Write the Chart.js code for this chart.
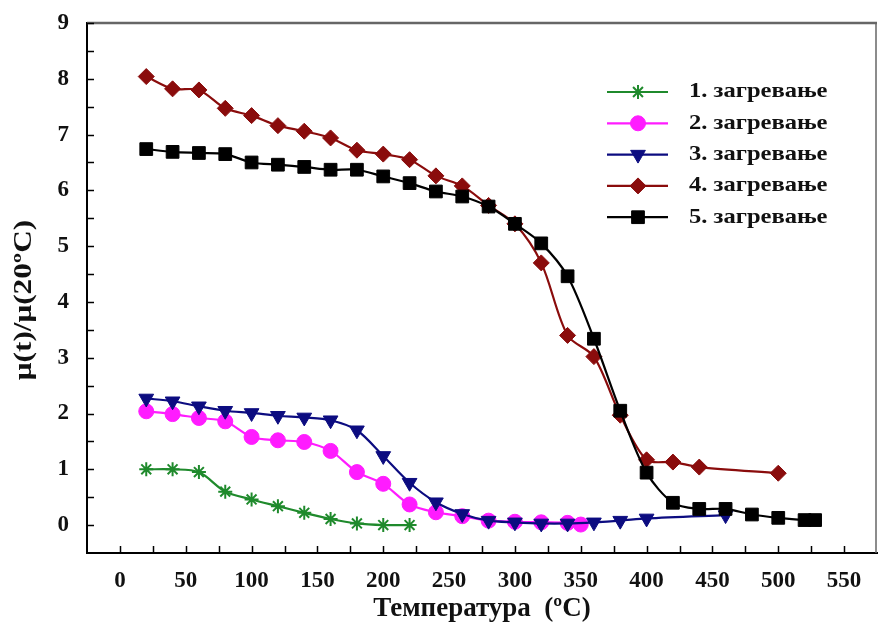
<!DOCTYPE html>
<html>
<head>
<meta charset="utf-8">
<title>Загревање</title>
<script src="https://cdn.jsdelivr.net/npm/chart.js@4.4.1/dist/chart.umd.min.js"></script>
<style>
  html, body { margin: 0; padding: 0; background: #fff; }
  #wrap { width: 878px; height: 637px; }
</style>
</head>
<body>
<div id="wrap"><canvas id="heatChart" width="878" height="637"></canvas></div>
<script>
// Temperatures (ºC) and ratios mu(t)/mu(20ºC) for each heating run
const temp1 = [20, 40, 60, 80, 100, 120, 140, 160, 180, 200, 220];
const heat1 = [1.0, 1.0, 0.95, 0.6, 0.46, 0.34, 0.22, 0.11, 0.03, 0.0, 0.0];

const temp2 = [20, 40, 60, 80, 100, 120, 140, 160, 180, 200, 220, 240, 260, 280, 300, 320, 340, 350];
const heat2 = [2.04, 1.99, 1.92, 1.86, 1.58, 1.52, 1.49, 1.33, 0.95, 0.74, 0.37, 0.23, 0.16, 0.08, 0.06, 0.05, 0.04, 0.01];

const temp3 = [20, 40, 60, 80, 100, 120, 140, 160, 180, 200, 220, 240, 260, 280, 300, 320, 340, 360, 380, 400, 460];
const heat3 = [2.27, 2.22, 2.13, 2.05, 2.01, 1.96, 1.93, 1.88, 1.7, 1.24, 0.76, 0.41, 0.2, 0.08, 0.05, 0.03, 0.03, 0.05, 0.08, 0.12, 0.18];

const temp4 = [20, 40, 60, 80, 100, 120, 140, 160, 180, 200, 220, 240, 260, 280, 300, 320, 340, 360, 380, 400, 420, 440, 500];
const heat4 = [8.04, 7.82, 7.8, 7.47, 7.34, 7.16, 7.06, 6.94, 6.72, 6.65, 6.55, 6.26, 6.08, 5.73, 5.4, 4.7, 3.4, 3.02, 1.97, 1.17, 1.13, 1.04, 0.93];

const temp5 = [20, 40, 60, 80, 100, 120, 140, 160, 180, 200, 220, 240, 260, 280, 300, 320, 340, 360, 380, 400, 420, 440, 460, 480, 500, 520, 528];
const heat5 = [6.74, 6.69, 6.67, 6.65, 6.5, 6.46, 6.42, 6.37, 6.37, 6.25, 6.13, 5.98, 5.89, 5.71, 5.4, 5.05, 4.46, 3.34, 2.05, 0.94, 0.4, 0.29, 0.29, 0.19, 0.13, 0.09, 0.09];

const seriesNames = ['1. загревање', '2. загревање', '3. загревање', '4. загревање', '5. загревање'];

const xTicks = [0, 50, 100, 150, 200, 250, 300, 350, 400, 450, 500, 550];
const yTicks = [0, 1, 2, 3, 4, 5, 6, 7, 8, 9];

const yTitle = 'μ(t)/μ(20ºC)';
const xTitle = 'Температура  (ºC)';

const serif = "'Liberation Serif', 'Times New Roman', serif";
Chart.defaults.font.family = serif;
Chart.defaults.color = '#111';

const toPoints = (xs, ys) => xs.map((t, i) => ({ x: t, y: ys[i] }));

// Line + marker style per heating run
function series(i, xs, ys, color, style) {
    return Object.assign({
        label: seriesNames[i],
        data: toPoints(xs, ys),
        borderColor: color,
        backgroundColor: color,
        pointBackgroundColor: color,
        pointBorderColor: color,
        borderWidth: 2.2,
        pointBorderWidth: 1,
        tension: 0.3,
        order: 5 - i
    }, style);
}

const datasets = [
    series(0, temp1, heat1, '#1f8a2c', { pointStyle: 'star', pointRadius: 7, pointBorderWidth: 2 }),
    series(1, temp2, heat2, '#ff1cff', { pointStyle: 'circle', pointRadius: 7.5 }),
    series(2, temp3, heat3, '#0c0c80', { pointStyle: 'triangle', pointRadius: 8.5, pointRotation: 180 }),
    series(3, temp4, heat4, '#8a0c0c', { pointStyle: 'rectRot', pointRadius: 8 }),
    series(4, temp5, heat5, '#000000', { pointStyle: 'rect', pointRadius: 9 })
];

// Gray top/right frame edges, inward tick marks and the rotated y title
const frameTicks = {
    id: 'frameTicks',
    beforeDatasetsDraw(chart) {
        const { ctx, chartArea: a, scales: { x, y } } = chart;
        ctx.save();
        ctx.strokeStyle = '#666';
        ctx.lineWidth = 2.5;
        ctx.beginPath();
        ctx.moveTo(a.left, a.top);
        ctx.lineTo(a.right, a.top);
        ctx.stroke();
        ctx.lineWidth = 1.5;
        ctx.beginPath();
        ctx.moveTo(a.right - 1, a.top);
        ctx.lineTo(a.right - 1, a.bottom);
        ctx.stroke();

        ctx.strokeStyle = '#000';
        ctx.lineWidth = 1.5;
        ctx.beginPath();
        for (let v = 0; v <= 550; v += 25) {
            const px = Math.round(x.getPixelForValue(v)) + 0.5;
            ctx.moveTo(px, a.bottom);
            ctx.lineTo(px, a.bottom - 7);
        }
        for (let v = 0; v <= 9; v += 0.5) {
            const py = Math.round(y.getPixelForValue(v)) + 0.5;
            ctx.moveTo(a.left, py);
            ctx.lineTo(a.left + 7, py);
        }
        ctx.stroke();

        // y title, a little stretched along its baseline
        ctx.translate(25, (a.top + a.bottom) / 2 + 12);
        ctx.rotate(-Math.PI / 2);
        ctx.scale(1.25, 1);
        ctx.font = 'bold 25px ' + serif;
        ctx.fillStyle = '#111';
        ctx.textAlign = 'center';
        ctx.textBaseline = 'middle';
        ctx.fillText(yTitle, 0, 0);
        ctx.restore();
    }
};

// Legend box inside the plot, upper right
const insideLegend = {
    id: 'insideLegend',
    afterDraw(chart) {
        const ctx = chart.ctx;
        const a = chart.chartArea;
        const x0 = a.left + 520;
        chart.data.datasets.forEach((ds, i) => {
            const yy = a.top + 69 + i * 31.3;
            ctx.save();
            ctx.strokeStyle = ds.borderColor;
            ctx.fillStyle = ds.borderColor;
            ctx.lineWidth = 2.2;
            ctx.beginPath();
            ctx.moveTo(x0, yy);
            ctx.lineTo(x0 + 61, yy);
            ctx.stroke();
            ctx.lineWidth = ds.pointBorderWidth;
            Chart.helpers.drawPoint(ctx, {
                pointStyle: ds.pointStyle,
                radius: ds.pointRadius,
                rotation: ds.pointRotation || 0,
                borderWidth: ds.pointBorderWidth
            }, x0 + 31, yy);
            ctx.translate(x0 + 82, yy);
            ctx.scale(1.17, 1);
            ctx.fillStyle = '#111';
            ctx.font = 'bold 21px ' + serif;
            ctx.textBaseline = 'middle';
            ctx.textAlign = 'left';
            ctx.fillText(ds.label, 0, 0);
            ctx.restore();
        });
    }
};

const ctx = document.getElementById('heatChart').getContext('2d');
const heatChart = new Chart(ctx, {
    type: 'line',
    data: { datasets: datasets },
    options: {
        responsive: false,
        animation: false,
        layout: { autoPadding: false, padding: { top: 23, right: 1, left: 0, bottom: 0 } },
        plugins: {
            legend: { display: false },
            tooltip: { enabled: false }
        },
        scales: {
            x: {
                type: 'linear',
                min: -25,
                max: 575,
                afterBuildTicks: s => { s.ticks = xTicks.map(v => ({ value: v })); },
                afterFit: s => { s.height = 84; s.paddingLeft = 0; s.paddingRight = 0; },
                grid: { display: false, drawTicks: false },
                border: { display: true, color: '#000', width: 2 },
                ticks: {
                    autoSkip: false,
                    maxRotation: 0,
                    padding: 14,
                    color: '#111',
                    font: { size: 23, weight: 'bold' }
                },
                title: {
                    display: true,
                    text: xTitle,
                    color: '#111',
                    font: { size: 27, weight: 'bold' },
                    padding: { top: 0, bottom: 12 }
                }
            },
            y: {
                min: -0.5,
                max: 9,
                afterBuildTicks: s => { s.ticks = yTicks.map(v => ({ value: v })); },
                afterFit: s => { s.width = 87; s.paddingTop = 0; s.paddingBottom = 0; },
                grid: { display: false, drawTicks: false },
                border: { display: true, color: '#000', width: 2 },
                ticks: {
                    padding: 18,
                    color: '#111',
                    font: { size: 23, weight: 'bold' }
                }
            }
        }
    },
    plugins: [frameTicks, insideLegend]
});
</script>
</body>
</html>
